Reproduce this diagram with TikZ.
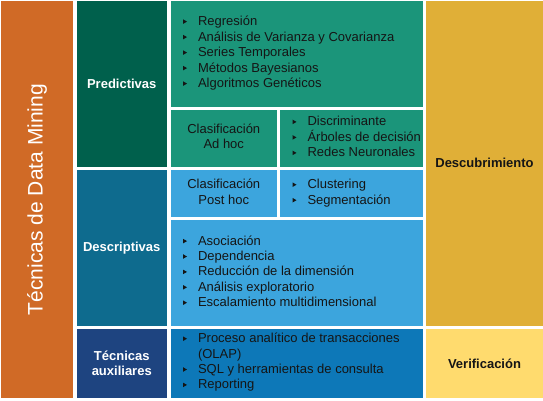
\documentclass[tikz,border=0pt]{standalone}
\usepackage{fontspec}
\setmainfont{Liberation Sans}
\definecolor{corange}{HTML}{D06A26}
\definecolor{cdgreen}{HTML}{00604C}
\definecolor{cteal}{HTML}{1B957A}
\definecolor{cdblue}{HTML}{0E6B8E}
\definecolor{clblue}{HTML}{3CA5DD}
\definecolor{cnavy}{HTML}{1E4480}
\definecolor{cmblue}{HTML}{0D78B8}
\definecolor{cgold}{HTML}{E0AF37}
\definecolor{cyellow}{HTML}{FFDB6E}
\definecolor{txt}{HTML}{151515}
\tikzset{
  box/.style={draw=none, inner sep=0pt, outer sep=0pt, anchor=center},
  boldlbl/.style={font=\fontsize{13}{15.5}\selectfont\bfseries, align=center},
  item/.style={anchor=base west, inner sep=0pt, outer sep=0pt, font=\fontsize{13}{15.5}\selectfont, text=txt},
  plain/.style={inner sep=0pt, font=\fontsize{13}{15.5}\selectfont, text=txt, align=center},
}
\begin{document}
\begin{tikzpicture}[x=1pt,y=-1pt]
\useasboundingbox[fill=white] (0,0) rectangle (543,400);
% left title column
\node[box, fill=corange, rotate=90, minimum width=397pt, minimum height=72pt,
      text=white, font=\fontsize{21}{25}\selectfont] (title) at (37,199.5) {Técnicas de Data Mining};
% category column
\node[box, fill=cdgreen, minimum width=90.5pt, minimum height=166pt, boldlbl, text=white] (pred) at (121.75,84) {Predictivas};
\node[box, fill=cdblue, minimum width=90.5pt, minimum height=155.5pt, boldlbl, text=white] (desc) at (121.75,247.75) {Descriptivas};
\node[box, fill=cnavy, minimum width=90.5pt, minimum height=69pt, boldlbl, text=white] (aux) at (121.75,363.5) {Técnicas\\auxiliares};
% content boxes
\node[box, fill=cteal, minimum width=252.5pt, minimum height=106pt] (regbox) at (296.75,54) {};
\node[box, fill=cteal, minimum width=106.5pt, minimum height=57pt] (adhoc) at (223.75,138.5) {};
\node[box, fill=cteal, minimum width=143pt, minimum height=57pt] (disc) at (351.5,138.5) {};
\node[box, fill=clblue, minimum width=106.5pt, minimum height=46.5pt] (posthoc) at (223.75,193.25) {};
\node[box, fill=clblue, minimum width=143pt, minimum height=46.5pt] (clust) at (351.5,193.25) {};
\node[box, fill=clblue, minimum width=252.5pt, minimum height=106pt] (asoc) at (296.75,272.5) {};
\node[box, fill=cmblue, minimum width=252.5pt, minimum height=69pt] (olap) at (296.75,363.5) {};
% right column
\node[box, fill=cgold, minimum width=117pt, minimum height=324.5pt, boldlbl, text=txt] (descub) at (484.5,163.25) {Descubrimiento};
\node[box, fill=cyellow, minimum width=117pt, minimum height=69pt, boldlbl, text=txt] (verif) at (484.5,363.5) {Verificación};
% centered labels
\node[plain] (adhoclbl) at (adhoc.center) [yshift=2pt] {Clasificación\\Ad hoc};
\node[plain] (posthoclbl) at (posthoc.center) [yshift=1.5pt] {Clasificación\\Post hoc};
% bullet lists
\foreach \t [count=\i from 0] in {Regresión, Análisis de Varianza y Covarianza, Series Temporales, Métodos Bayesianos, Algoritmos Genéticos}{
  \pgfmathsetmacro{\yb}{25.5+15.5*\i}
  \node[item] (reg\i) at (198,\yb) {\t};
  \fill[txt] (183,\yb-1.6) -- (183,\yb-6.2) -- (187,\yb-3.9) -- cycle;
}
\foreach \t [count=\i from 0] in {Discriminante, Árboles de decisión, Redes Neuronales}{
  \pgfmathsetmacro{\yb}{125.8+15.5*\i}
  \node[item] (disc\i) at (307.5,\yb) {\t};
  \fill[txt] (292.5,\yb-1.6) -- (292.5,\yb-6.2) -- (296.5,\yb-3.9) -- cycle;
}
\foreach \t [count=\i from 0] in {Clustering, Segmentación}{
  \pgfmathsetmacro{\yb}{188.6+15.5*\i}
  \node[item] (clust\i) at (307.5,\yb) {\t};
  \fill[txt] (292.5,\yb-1.6) -- (292.5,\yb-6.2) -- (296.5,\yb-3.9) -- cycle;
}
\foreach \t [count=\i from 0] in {Asociación, Dependencia, Reducción de la dimensión, Análisis exploratorio, Escalamiento multidimensional}{
  \pgfmathsetmacro{\yb}{245+15.4*\i}
  \node[item] (asoc\i) at (198,\yb) {\t};
  \fill[txt] (183,\yb-1.6) -- (183,\yb-6.2) -- (187,\yb-3.9) -- cycle;
}
\foreach \t/\yb/\b [count=\i from 0] in {Proceso analítico de transacciones/342.6/1, (OLAP)/358/0, SQL y herramientas de consulta/373.4/1, Reporting/388.8/1}{
  \node[item] (olap\i) at (198,\yb) {\t};
  \ifnum\b=1 \fill[txt] (183,\yb-1.6) -- (183,\yb-6.2) -- (187,\yb-3.9) -- cycle;\fi
}
\end{tikzpicture}
\end{document}
